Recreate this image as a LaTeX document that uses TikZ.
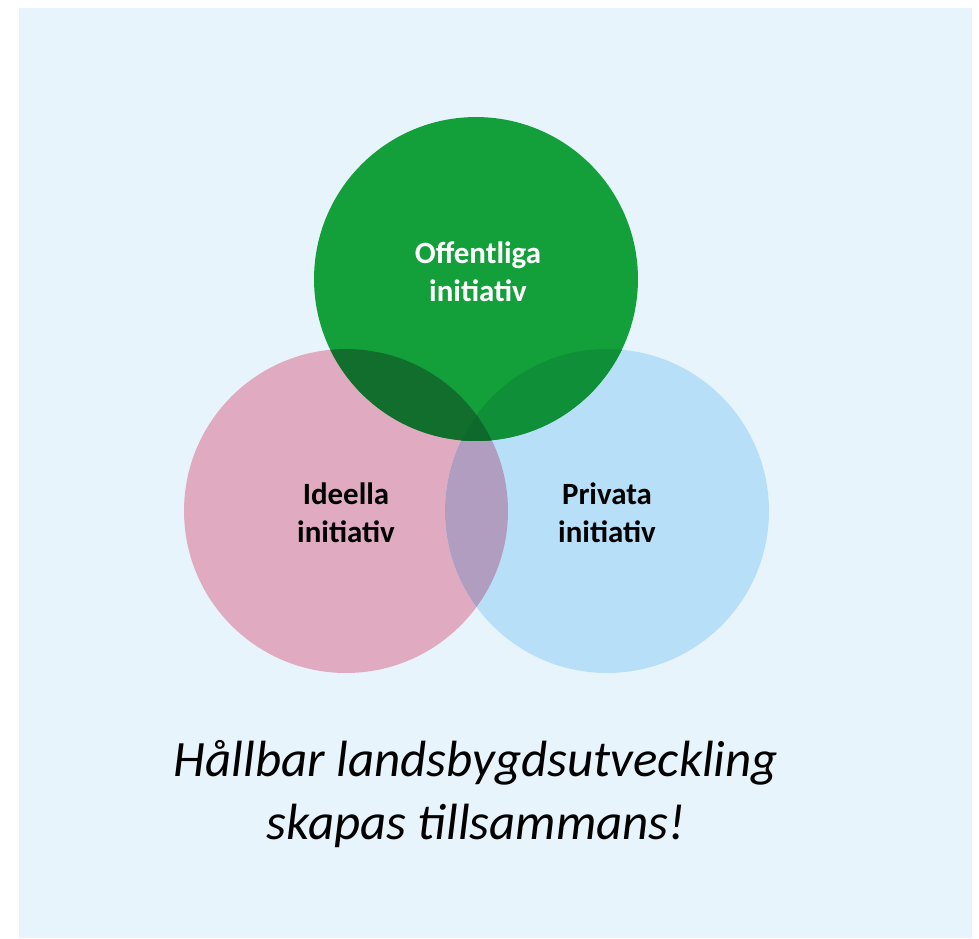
\documentclass[tikz,border=0pt]{standalone}
\usepackage{fontspec}
\setmainfont{Carlito}
\usepackage{tikz}
\usetikzlibrary{positioning}
\definecolor{bgblue}{HTML}{E8F4FC}
\definecolor{ideellac}{HTML}{E0AAC1}
\definecolor{privatac}{HTML}{B8DFF8}
\definecolor{offc}{HTML}{13A03A}
\definecolor{ideprivc}{HTML}{B09DC0}
\definecolor{offidec}{HTML}{116E2C}
\definecolor{offprivc}{HTML}{0F8F38}
\definecolor{allc}{HTML}{0E6A2C}
\begin{document}
\begin{tikzpicture}[
    x=0.02cm, y=-0.02cm,
    ring/.style={circle, minimum size=6.48cm, inner sep=0pt},
    lbl/.style={font=\bfseries\fontsize{17.6}{21.6}\selectfont, align=center},
    slogan/.style={font=\itshape\fontsize{29}{35.5}\selectfont, align=center}
  ]
    \useasboundingbox (0,0) rectangle (979,938);
    \fill[bgblue] (19,8) rectangle (972,938);
    \node[ring, fill=ideellac] (ide) at (346,511) {};
    \node[ring, fill=privatac] (pri) at (607,511) {};
    \begin{scope}
      \clip (ide.center) circle [radius=3.24cm];
      \fill[ideprivc] (pri.center) circle [radius=3.24cm];
    \end{scope}
    \node[ring, fill=offc] (off) at (476,279) {};
    \begin{scope}
      \clip (off.center) circle [radius=3.24cm];
      \fill[offidec] (ide.center) circle [radius=3.24cm];
      \fill[offprivc] (pri.center) circle [radius=3.24cm];
      \clip (ide.center) circle [radius=3.24cm];
      \fill[allc] (pri.center) circle [radius=3.24cm];
    \end{scope}
    \node[lbl, text=white] (offtxt) at (478,272) {Offentliga\\initiativ};
    \node[lbl] (idetxt) at (346,513) {Ideella\\initiativ};
    \node[lbl] (pritxt) at (607,513) {Privata\\initiativ};
    \node[slogan] (slogantxt) at (476,794) {Hållbar landsbygdsutveckling\\skapas tillsammans!};
  \end{tikzpicture}
\end{document}
